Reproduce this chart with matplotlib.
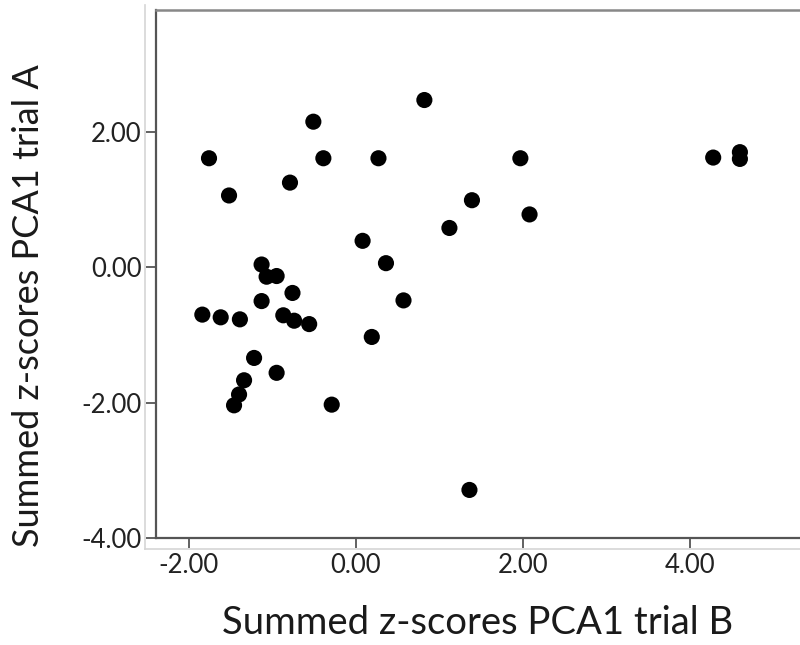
import matplotlib
matplotlib.use("Agg")
import matplotlib.pyplot as plt
from matplotlib.lines import Line2D

plt.rcParams['font.family'] = ['Lato', 'DejaVu Sans']

trial_b = [-1.76, -1.52, -0.51, -0.39, -0.79, 0.82, 0.27, 1.97, 4.28, 4.60, 4.60,
           1.39, 2.08, 1.12, 0.08, 0.36, 0.57, 0.19, -0.29, 1.36,
           -1.13, -1.07, -0.95, -0.76, -1.13, -1.84, -1.62, -1.39, -0.87, -0.74,
           -0.56, -1.22, -0.95, -1.34, -1.40, -1.46]
trial_a = [1.61, 1.06, 2.15, 1.61, 1.25, 2.47, 1.61, 1.61, 1.62, 1.60, 1.70,
           0.99, 0.78, 0.58, 0.39, 0.06, -0.49, -1.03, -2.03, -3.29,
           0.04, -0.14, -0.13, -0.38, -0.50, -0.70, -0.74, -0.77, -0.71, -0.79,
           -0.84, -1.34, -1.56, -1.67, -1.88, -2.04]

x_ticks = [-2.0, 0.0, 2.0, 4.0]
y_ticks = [-4.0, -2.0, 0.0, 2.0]
x_label = "Summed z-scores PCA1 trial B"
y_label = "Summed z-scores PCA1 trial A"

fig = plt.figure(figsize=(8, 6.45), dpi=100)
ax = fig.add_axes([156/800, 1 - 538/645, (800 - 156)/800, (538 - 10)/645])

ax.scatter(trial_b, trial_a, s=135, color='black', edgecolors='none', zorder=3)

ax.set_xlim(-2.395, 5.32)
ax.set_ylim(-4.0, 3.8)
ax.set_xticks(x_ticks)
ax.set_yticks(y_ticks)
ax.set_xticklabels([f"{v:.2f}" for v in x_ticks])
ax.set_yticklabels([f"{v:.2f}" for v in y_ticks])
ax.tick_params(axis='both', direction='out', length=7, width=1.3, color='#555555',
               labelsize=18.5, labelcolor='#222222', pad=3.5)

for side in ['left', 'bottom']:
    ax.spines[side].set_color('#555555')
    ax.spines[side].set_linewidth(1.6)
ax.spines['top'].set_color('#888888')
ax.spines['top'].set_linewidth(1.8)
ax.spines['right'].set_visible(False)

ax.set_xlabel(x_label, fontsize=27.5, color='#1a1a1a', labelpad=20)
ax.set_ylabel(y_label, fontsize=26, color='#1a1a1a')
ax.yaxis.set_label_coords(-0.172, 0.44)

# light outer frame lines (SPSS style)
fig.add_artist(Line2D([145/800, 145/800], [1 - 5/645, 1 - 549/645], color='#d5d5d5', lw=1.2))
fig.add_artist(Line2D([145/800, 1.0], [1 - 549/645, 1 - 549/645], color='#d5d5d5', lw=1.2))

fig.savefig("out.png", dpi=100, facecolor='white')
